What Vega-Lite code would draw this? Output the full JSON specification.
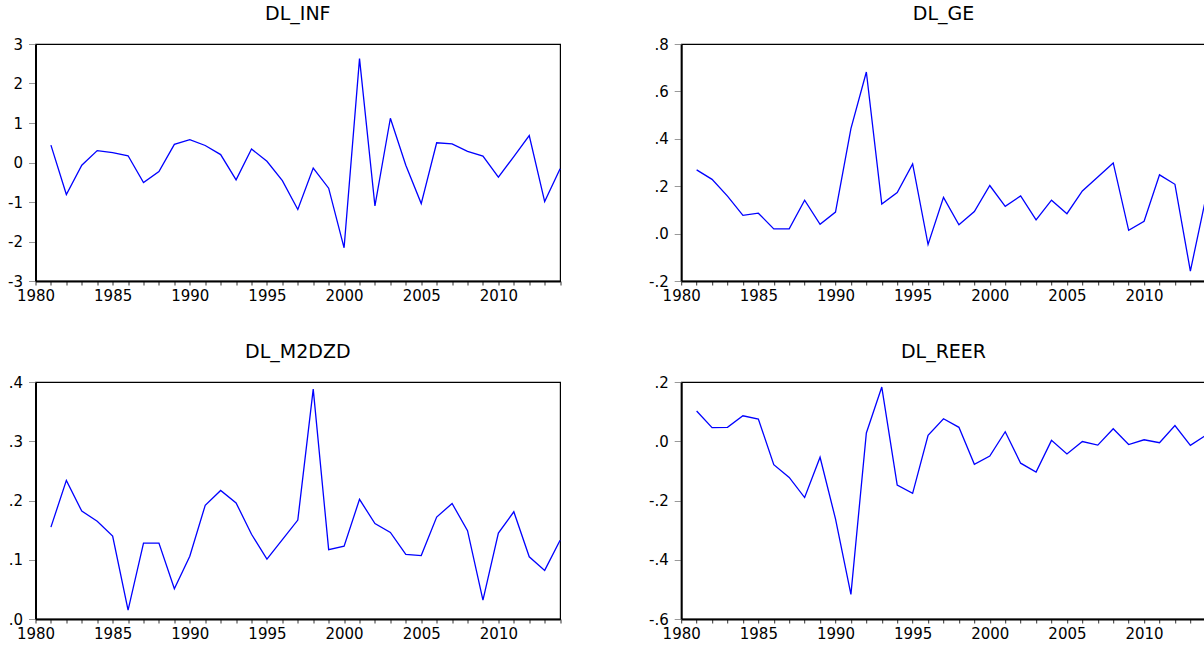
{
  "$schema": "https://vega.github.io/schema/vega-lite/v6.json",
  "padding": {"left": 6.5, "top": 4, "right": 0, "bottom": 0},
  "background": "white",
  "data": {"values": [
    {"year": 1981, "DL_INF": 0.44, "DL_GE": 0.269, "DL_M2DZD": 0.155, "DL_REER": 0.102},
    {"year": 1982, "DL_INF": -0.81, "DL_GE": 0.229, "DL_M2DZD": 0.234, "DL_REER": 0.046},
    {"year": 1983, "DL_INF": -0.07, "DL_GE": 0.158, "DL_M2DZD": 0.182, "DL_REER": 0.047},
    {"year": 1984, "DL_INF": 0.30, "DL_GE": 0.077, "DL_M2DZD": 0.165, "DL_REER": 0.086},
    {"year": 1985, "DL_INF": 0.25, "DL_GE": 0.086, "DL_M2DZD": 0.140, "DL_REER": 0.075},
    {"year": 1986, "DL_INF": 0.17, "DL_GE": 0.020, "DL_M2DZD": 0.015, "DL_REER": -0.079},
    {"year": 1987, "DL_INF": -0.51, "DL_GE": 0.020, "DL_M2DZD": 0.128, "DL_REER": -0.122},
    {"year": 1988, "DL_INF": -0.23, "DL_GE": 0.141, "DL_M2DZD": 0.128, "DL_REER": -0.190},
    {"year": 1989, "DL_INF": 0.46, "DL_GE": 0.039, "DL_M2DZD": 0.051, "DL_REER": -0.054},
    {"year": 1990, "DL_INF": 0.58, "DL_GE": 0.091, "DL_M2DZD": 0.106, "DL_REER": -0.262},
    {"year": 1991, "DL_INF": 0.43, "DL_GE": 0.443, "DL_M2DZD": 0.192, "DL_REER": -0.517},
    {"year": 1992, "DL_INF": 0.20, "DL_GE": 0.682, "DL_M2DZD": 0.217, "DL_REER": 0.028},
    {"year": 1993, "DL_INF": -0.44, "DL_GE": 0.125, "DL_M2DZD": 0.196, "DL_REER": 0.183},
    {"year": 1994, "DL_INF": 0.34, "DL_GE": 0.173, "DL_M2DZD": 0.143, "DL_REER": -0.148},
    {"year": 1995, "DL_INF": 0.03, "DL_GE": 0.294, "DL_M2DZD": 0.101, "DL_REER": -0.176},
    {"year": 1996, "DL_INF": -0.46, "DL_GE": -0.046, "DL_M2DZD": 0.134, "DL_REER": 0.020},
    {"year": 1997, "DL_INF": -1.19, "DL_GE": 0.153, "DL_M2DZD": 0.167, "DL_REER": 0.076},
    {"year": 1998, "DL_INF": -0.14, "DL_GE": 0.037, "DL_M2DZD": 0.388, "DL_REER": 0.047},
    {"year": 1999, "DL_INF": -0.65, "DL_GE": 0.093, "DL_M2DZD": 0.117, "DL_REER": -0.078},
    {"year": 2000, "DL_INF": -2.16, "DL_GE": 0.203, "DL_M2DZD": 0.123, "DL_REER": -0.050},
    {"year": 2001, "DL_INF": 2.63, "DL_GE": 0.115, "DL_M2DZD": 0.202, "DL_REER": 0.032},
    {"year": 2002, "DL_INF": -1.10, "DL_GE": 0.159, "DL_M2DZD": 0.161, "DL_REER": -0.074},
    {"year": 2003, "DL_INF": 1.12, "DL_GE": 0.058, "DL_M2DZD": 0.146, "DL_REER": -0.104},
    {"year": 2004, "DL_INF": -0.07, "DL_GE": 0.141, "DL_M2DZD": 0.109, "DL_REER": 0.003},
    {"year": 2005, "DL_INF": -1.04, "DL_GE": 0.084, "DL_M2DZD": 0.107, "DL_REER": -0.043},
    {"year": 2006, "DL_INF": 0.50, "DL_GE": 0.180, "DL_M2DZD": 0.172, "DL_REER": -0.001},
    {"year": 2007, "DL_INF": 0.47, "DL_GE": 0.239, "DL_M2DZD": 0.195, "DL_REER": -0.013},
    {"year": 2008, "DL_INF": 0.28, "DL_GE": 0.298, "DL_M2DZD": 0.149, "DL_REER": 0.042},
    {"year": 2009, "DL_INF": 0.16, "DL_GE": 0.014, "DL_M2DZD": 0.032, "DL_REER": -0.011},
    {"year": 2010, "DL_INF": -0.37, "DL_GE": 0.052, "DL_M2DZD": 0.145, "DL_REER": 0.005},
    {"year": 2011, "DL_INF": 0.15, "DL_GE": 0.248, "DL_M2DZD": 0.181, "DL_REER": -0.005},
    {"year": 2012, "DL_INF": 0.68, "DL_GE": 0.208, "DL_M2DZD": 0.105, "DL_REER": 0.053},
    {"year": 2013, "DL_INF": -0.99, "DL_GE": -0.158, "DL_M2DZD": 0.082, "DL_REER": -0.014},
    {"year": 2014, "DL_INF": -0.16, "DL_GE": 0.15, "DL_M2DZD": 0.133, "DL_REER": 0.02}
  ]},
  "columns": 2,
  "bounds": "flush",
  "spacing": {"row": 101, "column": 120.7},
  "concat": [
    {
      "title": {"text": "DL_INF"},
      "width": 524.6, "height": 237,
      "mark": {"type": "line", "color": "#0000FF", "strokeWidth": 1.3},
      "encoding": {
        "x": {"field": "year", "type": "quantitative", "scale": {"domain": [1980, 2014], "nice": false, "zero": false},
              "axis": {"title": null, "values": [1980,1981,1982,1983,1984,1985,1986,1987,1988,1989,1990,1991,1992,1993,1994,1995,1996,1997,1998,1999,2000,2001,2002,2003,2004,2005,2006,2007,2008,2009,2010,2011,2012,2013,2014],
                       "labelExpr": "datum.value % 5 == 0 ? format(datum.value, 'd') : ''"}},
        "y": {"field": "DL_INF", "type": "quantitative", "scale": {"domain": [-3, 3], "nice": false, "zero": false},
              "axis": {"title": null, "values": [-3,-2,-1,0,1,2,3],
                       "labelExpr": "replace(format(datum.value, 'd'), '\u2212', '-')"}}
      }
    },
    {
      "title": {"text": "DL_GE"},
      "width": 524.6, "height": 237,
      "mark": {"type": "line", "color": "#0000FF", "strokeWidth": 1.3},
      "encoding": {
        "x": {"field": "year", "type": "quantitative", "scale": {"domain": [1980, 2014], "nice": false, "zero": false},
              "axis": {"title": null, "values": [1980,1981,1982,1983,1984,1985,1986,1987,1988,1989,1990,1991,1992,1993,1994,1995,1996,1997,1998,1999,2000,2001,2002,2003,2004,2005,2006,2007,2008,2009,2010,2011,2012,2013,2014],
                       "labelExpr": "datum.value % 5 == 0 ? format(datum.value, 'd') : ''"}},
        "y": {"field": "DL_GE", "type": "quantitative", "scale": {"domain": [-0.2, 0.8], "nice": false, "zero": false},
              "axis": {"title": null, "values": [-0.2, 0, 0.2, 0.4, 0.6, 0.8],
                       "labelExpr": "replace(replace(format(datum.value, '.1f'), '\u2212', '-'), regexp('^(-?)0[.]'), '$1.')"}}
      }
    },
    {
      "title": {"text": "DL_M2DZD"},
      "width": 524.6, "height": 237,
      "mark": {"type": "line", "color": "#0000FF", "strokeWidth": 1.3},
      "encoding": {
        "x": {"field": "year", "type": "quantitative", "scale": {"domain": [1980, 2014], "nice": false, "zero": false},
              "axis": {"title": null, "values": [1980,1981,1982,1983,1984,1985,1986,1987,1988,1989,1990,1991,1992,1993,1994,1995,1996,1997,1998,1999,2000,2001,2002,2003,2004,2005,2006,2007,2008,2009,2010,2011,2012,2013,2014],
                       "labelExpr": "datum.value % 5 == 0 ? format(datum.value, 'd') : ''"}},
        "y": {"field": "DL_M2DZD", "type": "quantitative", "scale": {"domain": [0, 0.4], "nice": false, "zero": false},
              "axis": {"title": null, "values": [0, 0.1, 0.2, 0.3, 0.4],
                       "labelExpr": "replace(replace(format(datum.value, '.1f'), '\u2212', '-'), regexp('^(-?)0[.]'), '$1.')"}}
      }
    },
    {
      "title": {"text": "DL_REER"},
      "width": 524.6, "height": 237,
      "mark": {"type": "line", "color": "#0000FF", "strokeWidth": 1.3},
      "encoding": {
        "x": {"field": "year", "type": "quantitative", "scale": {"domain": [1980, 2014], "nice": false, "zero": false},
              "axis": {"title": null, "values": [1980,1981,1982,1983,1984,1985,1986,1987,1988,1989,1990,1991,1992,1993,1994,1995,1996,1997,1998,1999,2000,2001,2002,2003,2004,2005,2006,2007,2008,2009,2010,2011,2012,2013,2014],
                       "labelExpr": "datum.value % 5 == 0 ? format(datum.value, 'd') : ''"}},
        "y": {"field": "DL_REER", "type": "quantitative", "scale": {"domain": [-0.6, 0.2], "nice": false, "zero": false},
              "axis": {"title": null, "values": [-0.6, -0.4, -0.2, 0, 0.2],
                       "labelExpr": "replace(replace(format(datum.value, '.1f'), '\u2212', '-'), regexp('^(-?)0[.]'), '$1.')"}}
      }
    }
  ],
  "config": {
    "view": {"stroke": "#000000", "strokeWidth": 1.2},
    "axis": {"grid": false, "domainColor": "#000000", "domainWidth": 2, "labelFont": "DejaVu Sans", "labelFontSize": 15, "labelColor": "#000000", "labelOverlap": false, "labelFlush": false},
    "axisX": {"tickSize": 4, "tickColor": "#333333", "labelPadding": 3},
    "axisY": {"tickSize": 7, "tickColor": "#999999", "labelPadding": 6},
    "title": {"font": "DejaVu Sans", "fontSize": 19, "fontWeight": "normal", "color": "#000000", "anchor": "middle", "baseline": "alphabetic", "offset": 13}
  }
}
